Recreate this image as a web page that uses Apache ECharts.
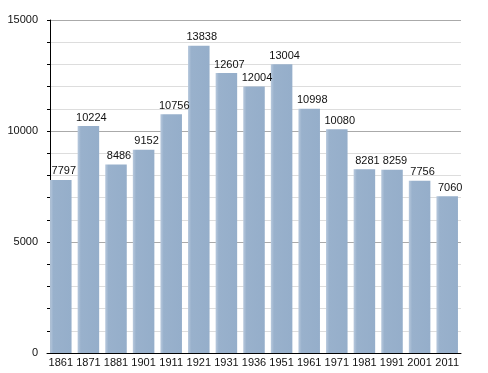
<!DOCTYPE html>
<html><head><meta charset="utf-8">
<script src="https://cdn.jsdelivr.net/npm/echarts@6/dist/echarts.min.js"></script>
<style>html,body{margin:0;padding:0;background:#fff}#c{width:488px;height:373px}</style>
</head><body><div id="c"></div>
<script>
var categories = ['1861','1871','1881','1901','1911','1921','1931','1936','1951','1961','1971','1981','1991','2001','2011'];
var population = [7797,10224,8486,9152,10756,13838,12607,12004,13004,10998,10080,8281,8259,7756,7060];
var yMin = 0, yMax = 15000, yInterval = 5000;

var chart = echarts.init(document.getElementById('c'), null, {renderer:'canvas'});
chart.setOption({
  animation:false,
  grid:{left:47,right:27,top:20,bottom:20,containLabel:false},
  xAxis:{type:'category',data:categories,
    axisLine:{lineStyle:{color:'#000',width:1}},
    axisTick:{show:false},
    axisLabel:{color:'#111',fontFamily:'Liberation Sans, Arial, sans-serif',fontSize:11,margin:4,interval:0}
  },
  yAxis:{type:'value',min:yMin,max:yMax,interval:yInterval,offset:-3,
    axisLine:{show:true,lineStyle:{color:'#000',width:1}},
    axisTick:{show:true,length:3,lineStyle:{color:'#000'}},
    minorTick:{show:true,splitNumber:5,length:3,lineStyle:{color:'#000'}},
    axisLabel:{color:'#111',fontFamily:'Liberation Sans, Arial, sans-serif',fontSize:11,margin:12,
      formatter:function(v){return String(v);}},
    splitLine:{show:true,lineStyle:{color:'#aaaaaa',width:1}},
    minorSplitLine:{show:true,lineStyle:{color:'#dddddd',width:1}}
  },
  series:[{type:'bar',data:population,barCategoryGap:'22%',
    itemStyle:{color:new echarts.graphic.LinearGradient(0,0,1,0,[
      {offset:0,color:'#b8c9dd'},{offset:0.15,color:'#99b1cc'},{offset:1,color:'#95aeca'}])},
    label:{show:true,position:'top',color:'#111',fontFamily:'Liberation Sans, Arial, sans-serif',fontSize:11,distance:3,offset:[3,0]}
  }]
});
</script></body></html>
